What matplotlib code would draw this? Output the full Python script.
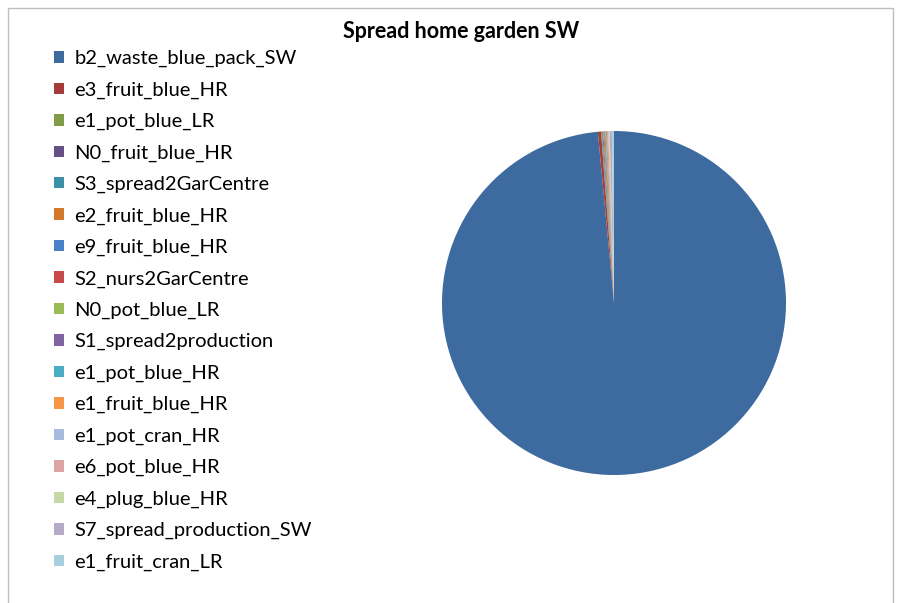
import matplotlib.pyplot as plt
from matplotlib.patches import Patch, Rectangle

# pie data (percent shares)
labels = ["b2_waste_blue_pack_SW", "e3_fruit_blue_HR", "e1_pot_blue_LR",
          "N0_fruit_blue_HR", "S3_spread2GarCentre", "e2_fruit_blue_HR",
          "e9_fruit_blue_HR", "S2_nurs2GarCentre", "N0_pot_blue_LR",
          "S1_spread2production", "e1_pot_blue_HR", "e1_fruit_blue_HR",
          "e1_pot_cran_HR", "e6_pot_blue_HR", "e4_plug_blue_HR",
          "S7_spread_production_SW", "e1_fruit_cran_LR"]
values = [98.5, 0.30, 0.05, 0.05, 0.10, 0.10, 0.05, 0.05, 0.05,
          0.05, 0.05, 0.10, 0.05, 0.05, 0.05, 0.20, 0.20]
colors = ["#3d6a9f", "#a53c3a", "#7f9c48", "#664f85", "#3a91a7", "#d4792c",
          "#4a80c8", "#c8494a", "#9bbb59", "#8064a2", "#4bacc6", "#f79646",
          "#a7b9de", "#dda4a4", "#c5d8a5", "#b6aac9", "#a7d0de"]

plt.rcParams['font.family'] = ['Lato', 'DejaVu Sans']

fig = plt.figure(figsize=(9.03, 6.03), dpi=100)

# outer frame like the spreadsheet chart area
fig.patches.append(Rectangle((8 / 903, -0.01), 885 / 903, (603 - 8) / 603 + 0.01,
                             transform=fig.transFigure, fill=False,
                             edgecolor="#bfbfbf", linewidth=1))

ax = fig.add_axes([442 / 903, (603 - 475) / 603, 344 / 903, 344 / 603])
ax.pie(values, colors=colors, startangle=90, counterclock=False,
       wedgeprops=dict(linewidth=0))
ax.set_xlim(-1, 1)
ax.set_ylim(-1, 1)
ax.set_aspect('equal')
ax.axis('off')

fig.text(461 / 903, 1 - 32 / 603, "Spread home garden SW", ha='center', va='center',
         fontsize=15.5, fontweight='bold')

handles = [Patch(facecolor=c, edgecolor='none') for c in colors]
fig.legend(handles, labels, loc='upper left', bbox_to_anchor=(54 / 903, 1 - 50 / 603),
           frameon=False, fontsize=14.5, handlelength=0.5, handleheight=0.5,
           handletextpad=0.5, labelspacing=0.705, borderaxespad=0, borderpad=0)

fig.savefig("out.png", dpi=100)
